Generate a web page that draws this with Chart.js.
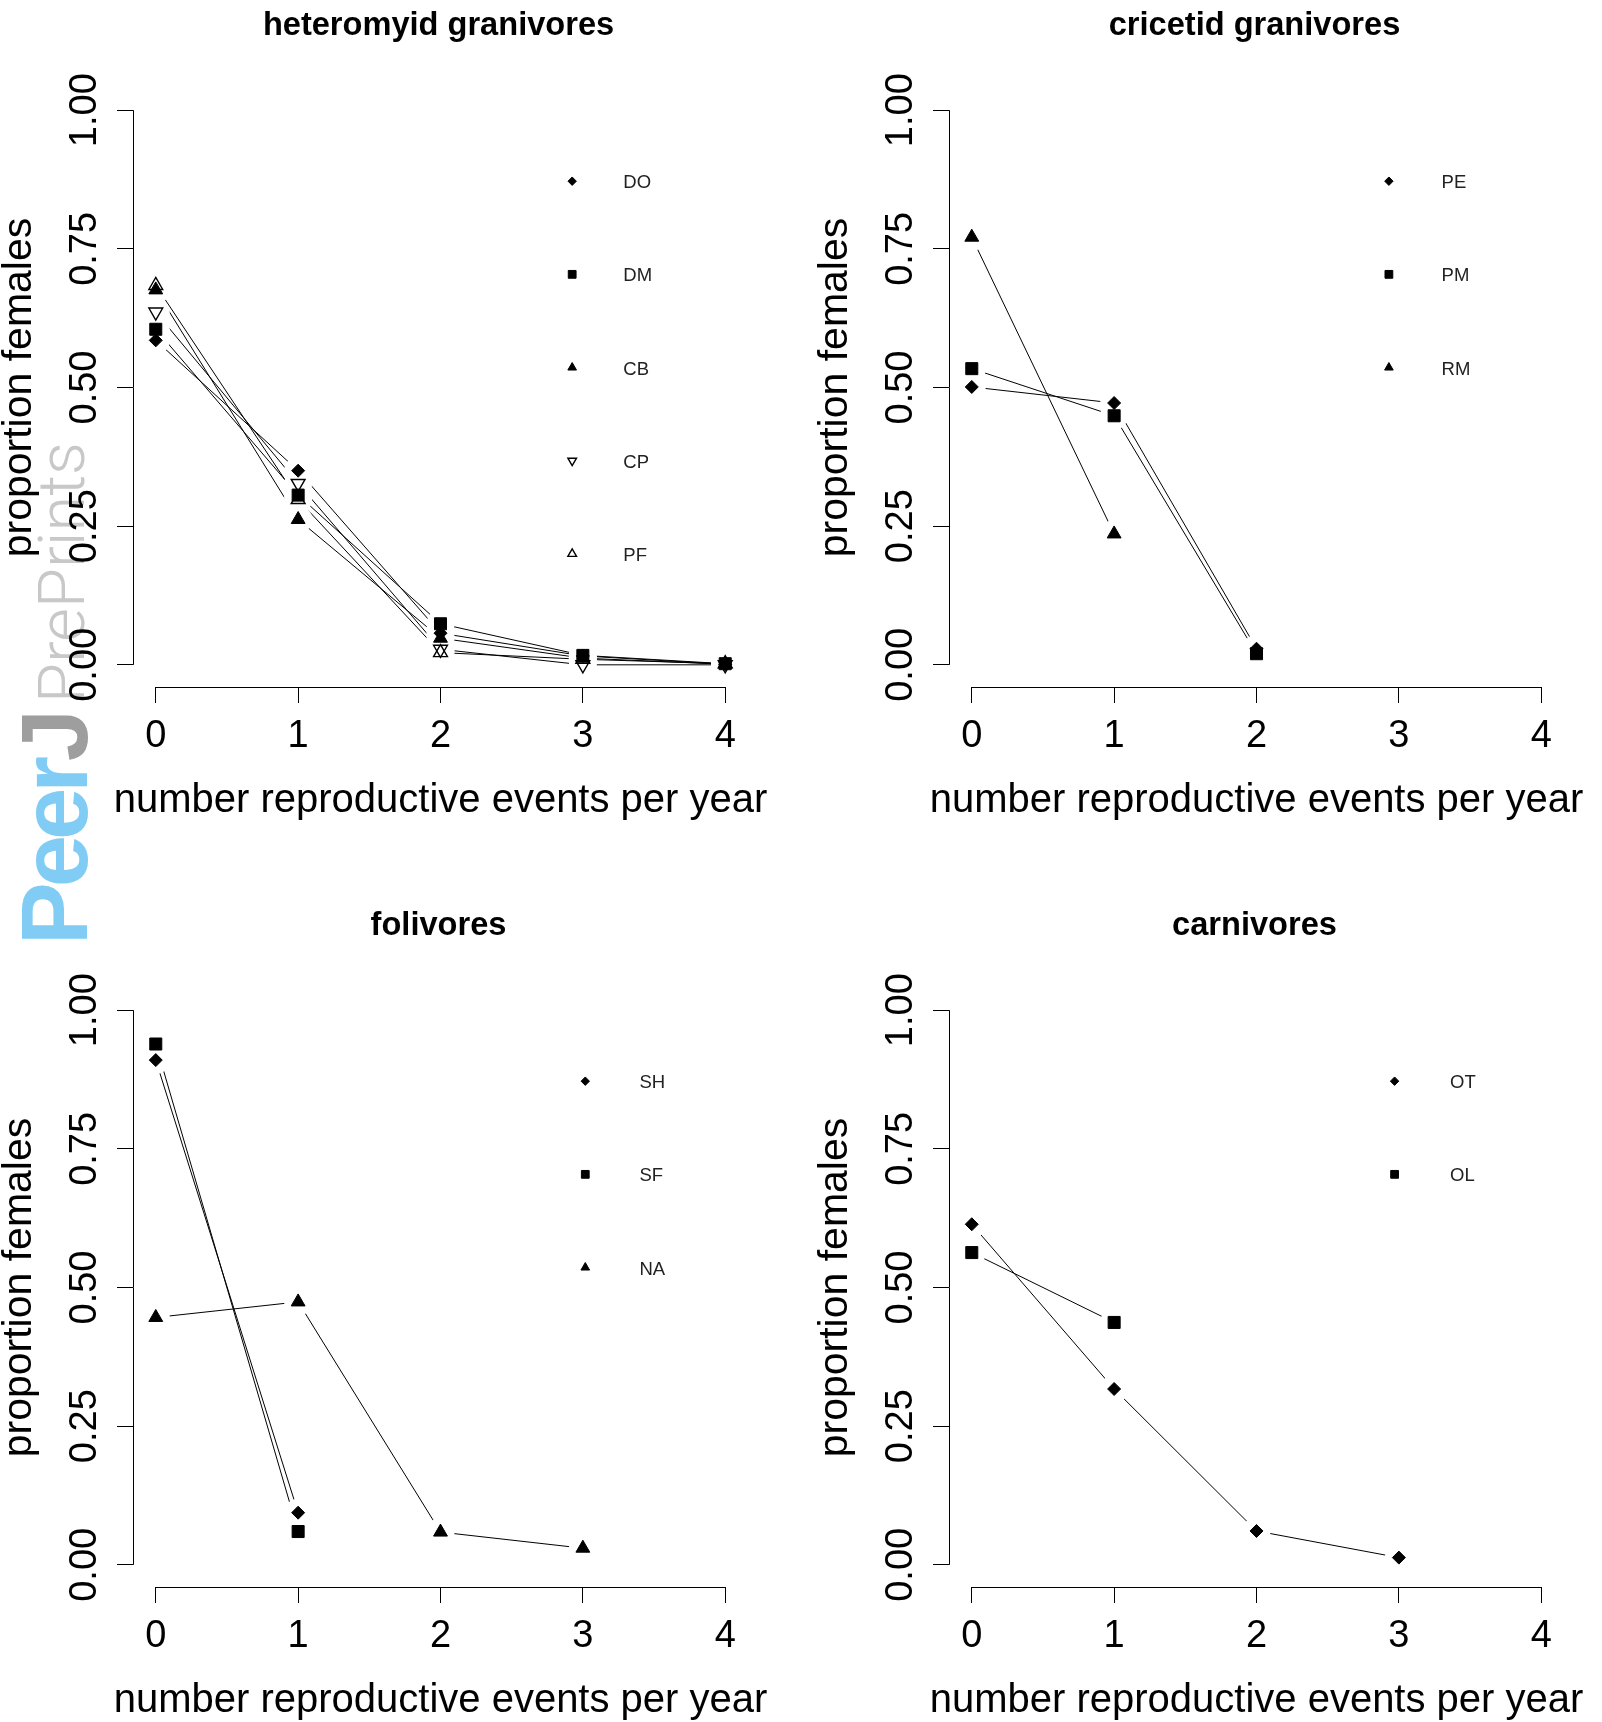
<!DOCTYPE html>
<html>
<head>
<meta charset="utf-8">
<script src="https://cdn.jsdelivr.net/npm/chart.js@4.4.0/dist/chart.umd.min.js"></script>
<style>
  html, body { margin: 0; padding: 0; background: #fff; }
  body { width: 1602px; height: 1722px; position: relative; overflow: hidden; }
  canvas { position: absolute; }
  .wm { position: absolute; left: 0; top: 0; transform-origin: 0 0; white-space: nowrap; line-height: 1; }
</style>
</head>
<body>
<div class="wm" style="font: bold 94px 'Liberation Sans', Arial, sans-serif; letter-spacing: -5px; transform: translate(1px, 945px) rotate(-90deg);"><span style="color:#80ccf5">Peer</span><span style="color:#9e9e9e">J</span></div>
<div class="wm" style="font: 300 65px Roboto, 'Liberation Sans', sans-serif; color: #c8c8c8; transform: translate(24px, 703px) rotate(-90deg);">PrePrints</div>

<canvas id="c1" width="786" height="822" style="left:0;top:0"></canvas>
<canvas id="c2" width="786" height="822" style="left:816px;top:0"></canvas>
<canvas id="c3" width="786" height="822" style="left:0;top:900px"></canvas>
<canvas id="c4" width="786" height="822" style="left:816px;top:900px"></canvas>

<script>
// number of reproductive events per year (x positions) and axis ticks
const events = [0, 1, 2, 3, 4];
const xTicks = [0, 1, 2, 3, 4];
const yTicks = [0, 0.25, 0.5, 0.75, 1];
const yTickLabels = ['0.00', '0.25', '0.50', '0.75', '1.00'];

// heteromyid granivores
const hetNames = ['DO', 'DM', 'CB', 'CP', 'PF'];
const hetDO = [0.585, 0.350, 0.057, 0.016, 0.001];
const hetDM = [0.605, 0.306, 0.074, 0.017, 0.002];
const hetCB = [0.676, 0.262, 0.048, 0.012, 0.001];
const hetCP = [0.636, 0.327, 0.028, 0.000, 0.000];
const hetPF = [0.684, 0.298, 0.022, 0.010, 0.002];

// cricetid granivores
const criNames = ['PE', 'PM', 'RM'];
const criPE = [0.501, 0.472, 0.029];
const criPM = [0.534, 0.449, 0.020];
const criRM = [0.771, 0.236];

// folivores
const folNames = ['SH', 'SF', 'NA'];
const folSH = [0.910, 0.094];
const folSF = [0.939, 0.060];
const folNA = [0.446, 0.474, 0.059, 0.030];

// carnivores
const carNames = ['OT', 'OL'];
const carOT = [0.614, 0.317, 0.061, 0.013];
const carOL = [0.563, 0.437];

const FONT = '"Liberation Sans", Arial, sans-serif';
Chart.defaults.font.family = FONT;

// R pch 18, 15, 17, 6, 2
const symbols = [
    { style: 'rectRot', rotation: 0, radius: 6.5, legendRadius: 4.2, fill: '#000', border: 1 },
    { style: 'rect', rotation: 0, radius: 8.5, legendRadius: 5.5, fill: '#000', border: 1 },
    { style: 'triangle', rotation: 0, radius: 8, legendRadius: 5, fill: '#000', border: 1 },
    { style: 'triangle', rotation: 180, radius: 8, legendRadius: 5, fill: 'rgba(0,0,0,0)', border: 1.4 },
    { style: 'triangle', rotation: 0, radius: 8, legendRadius: 5, fill: 'rgba(0,0,0,0)', border: 1.4 }
];

const legendTop = 0.872;
const legendStep = 0.168;

function toPoints(vals) {
    return vals.map((v, i) => ({ x: events[i], y: v }));
}

function buildDatasets(series) {
    const lines = series.map(vals => ({
        data: toPoints(vals), showLine: true, borderColor: '#000', borderWidth: 1,
        pointRadius: 0, order: 3
    }));
    // white discs under the symbols give the R type="b" gaps
    const gaps = series.map(vals => ({
        data: toPoints(vals), showLine: false, pointRadius: 14,
        pointBackgroundColor: '#fff', pointBorderWidth: 0, order: 2
    }));
    const marks = series.map((vals, i) => ({
        data: toPoints(vals), showLine: false,
        pointStyle: symbols[i].style, pointRotation: symbols[i].rotation,
        pointRadius: symbols[i].radius, pointBackgroundColor: symbols[i].fill,
        pointBorderColor: '#000', pointBorderWidth: symbols[i].border, order: 1
    }));
    return [...lines, ...gaps, ...marks];
}

// axis lines only span first to last tick, like R
const axisLines = {
    id: 'axisLines',
    afterDraw(chart) {
        const { ctx, chartArea, scales: { x, y } } = chart;
        const px = v => Math.round(v) + 0.5;
        ctx.save();
        ctx.strokeStyle = '#000';
        ctx.lineWidth = 1;
        ctx.beginPath();
        ctx.moveTo(x.getPixelForValue(xTicks[0]), px(chartArea.bottom));
        ctx.lineTo(x.getPixelForValue(xTicks[xTicks.length - 1]), px(chartArea.bottom));
        ctx.moveTo(px(chartArea.left), y.getPixelForValue(yTicks[0]));
        ctx.lineTo(px(chartArea.left), y.getPixelForValue(yTicks[yTicks.length - 1]));
        ctx.stroke();
        ctx.restore();
    }
};

// main title and x-axis label (the scale title would squeeze it to the plot width)
const panelText = {
    id: 'panelText',
    afterDraw(chart, args, opts) {
        const { ctx, chartArea } = chart;
        const cx = (chartArea.left + chartArea.right) / 2;
        ctx.save();
        ctx.fillStyle = '#000';
        ctx.textAlign = 'center';
        ctx.font = 'bold 32.6px ' + FONT;
        ctx.textBaseline = 'alphabetic';
        ctx.fillText(opts.title, cx - 2, 35);
        ctx.font = '40px ' + FONT;
        ctx.textBaseline = 'middle';
        ctx.fillText(opts.xLabel, cx, chartArea.bottom + 113.5);
        ctx.restore();
    }
};

const speciesLegend = {
    id: 'speciesLegend',
    afterDraw(chart, args, opts) {
        const { ctx, scales: { x, y } } = chart;
        opts.names.forEach((name, i) => {
            const py = y.getPixelForValue(legendTop - i * legendStep);
            const sym = symbols[i];
            ctx.save();
            ctx.fillStyle = sym.fill;
            ctx.strokeStyle = '#000';
            ctx.lineWidth = sym.border;
            Chart.helpers.drawPoint(ctx, {
                pointStyle: sym.style, rotation: sym.rotation,
                radius: sym.legendRadius, borderWidth: sym.border
            }, x.getPixelForValue(opts.symbolX), py);
            ctx.font = '18.5px ' + FONT;
            ctx.fillStyle = '#222';
            ctx.textAlign = 'left';
            ctx.textBaseline = 'middle';
            ctx.fillText(name, x.getPixelForValue(opts.textX), py + 2);
            ctx.restore();
        });
    }
};

function makePanel(id, title, names, series, symbolX, textX) {
    const tickGrid = {
        display: true, drawOnChartArea: false, drawTicks: true,
        tickLength: 16, color: '#000', lineWidth: 1
    };
    new Chart(document.getElementById(id), {
        type: 'line',
        data: { datasets: buildDatasets(series) },
        plugins: [axisLines, panelText, speciesLegend],
        options: {
            responsive: false,
            animation: false,
            devicePixelRatio: 1,
            layout: { padding: { top: 88, right: 38, bottom: 0, left: 0 } },
            plugins: {
                legend: { display: false },
                tooltip: { enabled: false },
                panelText: { title: title, xLabel: 'number reproductive events per year' },
                speciesLegend: { names: names, symbolX: symbolX, textX: textX }
            },
            scales: {
                x: {
                    type: 'linear', min: -0.16, max: 4.16,
                    afterBuildTicks: s => { s.ticks = xTicks.map(v => ({ value: v })); },
                    afterFit: s => { s.height = 135; },
                    grid: tickGrid,
                    border: { display: false },
                    ticks: {
                        autoSkip: false, minRotation: 0, maxRotation: 0, padding: 10.5,
                        color: '#000', font: { size: 38 },
                        callback: (v, i) => String(xTicks[i])
                    }
                },
                y: {
                    type: 'linear', min: -0.04, max: 1.04,
                    afterBuildTicks: s => { s.ticks = yTicks.map(v => ({ value: v })); },
                    afterFit: s => { s.width = 133; },
                    grid: tickGrid,
                    border: { display: false },
                    ticks: {
                        autoSkip: false, minRotation: 90, maxRotation: 90,
                        crossAlign: 'center', padding: -5.5,
                        color: '#000', font: { size: 38 },
                        callback: (v, i) => yTickLabels[i]
                    },
                    title: {
                        display: true, text: 'proportion females',
                        color: '#000', font: { size: 41 }, padding: { top: -5, bottom: 0 }
                    }
                }
            }
        }
    });
}

makePanel('c1', 'heteromyid granivores', hetNames, [hetDO, hetDM, hetCB, hetCP, hetPF], 2.925, 3.284);
makePanel('c2', 'cricetid granivores', criNames, [criPE, criPM, criRM], 2.93, 3.30);
makePanel('c3', 'folivores', folNames, [folSH, folSF, folNA], 3.017, 3.397);
makePanel('c4', 'carnivores', carNames, [carOT, carOL], 2.97, 3.36);
</script>
</body>
</html>
